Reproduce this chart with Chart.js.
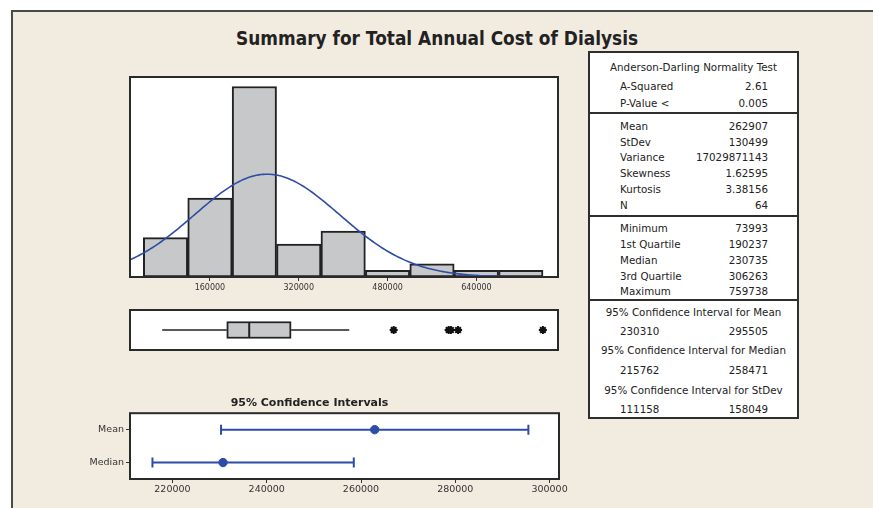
<!DOCTYPE html>
<html>
<head>
<meta charset="utf-8">
<script src="https://cdn.jsdelivr.net/npm/chart.js@4/dist/chart.umd.min.js"></script>
<style>
  body { margin: 0; background: #fff; overflow: hidden; width: 873px; height: 508px; position: relative; font-family: "DejaVu Sans", sans-serif; }
  #frame { position: absolute; left: 11px; top: 10px; width: 880px; height: 520px; background: #f2ebe0; border-left: 2px solid #4a4a4a; border-top: 2px solid #4a4a4a; }
  #title { position: absolute; left: 0; top: 27px; width: 875px; text-align: center; font: bold 19px "DejaVu Sans", sans-serif; color: #222; line-height: 22px; }
  #title span { display: inline-block; transform-origin: center; }
  canvas { position: absolute; }
  #stats { position: absolute; left: 588px; top: 51px; width: 207px; height: 364px; background: #fff; border: 2px solid #2e2e2e; }
  .sep { position: absolute; left: 0; width: 207px; height: 2px; background: #2e2e2e; }
  .txt { position: absolute; font-size: 10.3px; color: #222; line-height: 12px; white-space: nowrap; }
</style>
</head>
<body>
<div id="frame"></div>
<div id="title"><span>Summary for Total Annual Cost of Dialysis</span></div>
<canvas id="hist" width="450" height="230" style="left:120px;top:70px"></canvas>
<canvas id="box" width="450" height="60" style="left:120px;top:300px"></canvas>
<canvas id="ci" width="510" height="110" style="left:60px;top:390px"></canvas>
<div id="stats"></div>
<script>
// ---- data ----
const binCenters = [80000, 160000, 240000, 320000, 400000, 480000, 560000, 640000, 720000];
const binCounts = [6, 12, 29, 5, 7, 1, 2, 1, 1];
const histTicks = [160000, 320000, 480000, 640000];

const sampleMean = 262907;
const sampleSd = 130499;
const sampleN = 64;
const binWidth = 80000;

const boxWhiskers = [73993, 411000];   // lowest / highest non-outlier
const boxQuartiles = [190237, 230735, 306263]; // Q1, median, Q3
const boxOutliers = [491000, 590000, 594000, 607000, 759738];

const ciLabels = ["Mean", "Median"];
const ciLow = [230310, 215762];
const ciHigh = [295505, 258471];
const ciEstimate = [262907, 230735];
const ciTicks = [220000, 240000, 260000, 280000, 300000];

const adLabels = ["A-Squared", "P-Value <"];
const adValues = ["2.61", "0.005"];
const descLabels = ["Mean", "StDev", "Variance", "Skewness", "Kurtosis", "N"];
const descValues = ["262907", "130499", "17029871143", "1.62595", "3.38156", "64"];
const quartLabels = ["Minimum", "1st Quartile", "Median", "3rd Quartile", "Maximum"];
const quartValues = ["73993", "190237", "230735", "306263", "759738"];
const ciTableTitles = ["95% Confidence Interval for Mean", "95% Confidence Interval for Median", "95% Confidence Interval for StDev"];
const ciTableLow = ["230310", "215762", "111158"];
const ciTableHigh = ["295505", "258471", "158049"];

// ---- common ----
Chart.defaults.font.family = "DejaVu Sans";
Chart.defaults.color = "#333";
Chart.defaults.animation = false;

const blue = "#2c4ca8";
const histMin = 16000, histMax = 787000;

// white plot area with dark frame
const plotBox = {
  id: "plotBox",
  beforeDraw(chart) {
    const a = chart.chartArea, ctx = chart.ctx;
    ctx.save();
    ctx.fillStyle = "#fff";
    ctx.fillRect(a.left, a.top, a.right - a.left, a.bottom - a.top);
    ctx.restore();
  },
  afterDraw(chart) {
    const a = chart.chartArea, ctx = chart.ctx;
    ctx.save();
    ctx.strokeStyle = "#2a2a2a";
    ctx.lineWidth = 2;
    ctx.strokeRect(a.left, a.top, a.right - a.left, a.bottom - a.top);
    ctx.restore();
  }
};

// fitted normal curve from the sample mean / stdev
const curve = [];
for (let x = histMin; x <= 750000; x += 4000) {
  const z = (x - sampleMean) / sampleSd;
  curve.push({ x: x, y: sampleN * binWidth * Math.exp(-0.5 * z * z) / (sampleSd * Math.sqrt(2 * Math.PI)) });
}

// ---- histogram ----
new Chart(document.getElementById("hist"), {
  type: "bar",
  data: {
    datasets: [
      {
        type: "line",
        data: curve,
        borderColor: blue,
        borderWidth: 1.6,
        pointRadius: 0,
        tension: 0
      },
      {
        data: binCenters.map((c, i) => ({ x: c, y: binCounts[i] })),
        backgroundColor: "#c7c8ca",
        borderColor: "#222",
        borderWidth: 2,
        borderSkipped: false,
        barPercentage: 1,
        categoryPercentage: 1
      }
    ]
  },
  options: {
    responsive: false,
    layout: { padding: { left: 10, right: 12, top: 7, bottom: 0 } },
    plugins: { legend: { display: false }, tooltip: { enabled: false } },
    scales: {
      x: {
        type: "linear",
        offset: false,
        min: histMin,
        max: histMax,
        afterBuildTicks: (s) => { s.ticks = histTicks.map(v => ({ value: v })); },
        afterFit: (s) => { s.height = 23; },
        ticks: { font: { size: 8 }, padding: 2, maxRotation: 0, callback: v => String(v) },
        grid: { drawOnChartArea: false, tickLength: 4, color: "#333", offset: false },
        border: { display: false }
      },
      y: { display: false, min: 0, max: 30.45 }
    }
  },
  plugins: [plotBox]
});

// ---- boxplot ----
// (first dataset is drawn on top)
new Chart(document.getElementById("box"), {
  type: "bar",
  data: {
    datasets: [
      {
        type: "scatter",
        data: [{ x: boxQuartiles[1], y: 0.5 }],
        pointStyle: "line", pointRotation: 90, pointRadius: 8,
        pointBorderColor: "#222", pointBorderWidth: 2
      },
      {
        type: "scatter",
        data: boxOutliers.map(v => ({ x: v, y: 0.5 })),
        pointStyle: "star", pointRadius: 4,
        pointBorderColor: "#111", pointBorderWidth: 2
      },
      {
        indexAxis: "y",
        data: [{ x: [boxQuartiles[0], boxQuartiles[2]], y: 0.5 }],
        backgroundColor: "#c7c8ca",
        borderColor: "#222",
        borderWidth: 2,
        borderSkipped: false,
        barThickness: 17
      },
      {
        type: "line",
        data: [{ x: boxWhiskers[0], y: 0.5 }, { x: boxQuartiles[0], y: 0.5 }],
        borderColor: "#222", borderWidth: 1.5, pointRadius: 0
      },
      {
        type: "line",
        data: [{ x: boxQuartiles[2], y: 0.5 }, { x: boxWhiskers[1], y: 0.5 }],
        borderColor: "#222", borderWidth: 1.5, pointRadius: 0
      }
    ]
  },
  options: {
    responsive: false,
    layout: { padding: { left: 10, right: 12, top: 7, bottom: 8 } },
    plugins: { legend: { display: false }, tooltip: { enabled: false } },
    scales: {
      x: { type: "linear", display: false, offset: false, min: histMin, max: histMax },
      y: { type: "linear", display: false, offset: false, min: 0, max: 1 }
    }
  },
  plugins: [plotBox]
});

// ---- confidence intervals ----
const ciSets = [{
  type: "scatter",
  data: ciLabels.map((lab, i) => ({ x: ciEstimate[i], y: lab })),
  backgroundColor: blue,
  borderColor: blue,
  pointRadius: 4.2
}];
ciLabels.forEach((lab, i) => ciSets.push({
  type: "line",
  data: [{ x: ciLow[i], y: lab }, { x: ciHigh[i], y: lab }],
  borderColor: blue,
  borderWidth: 2,
  pointStyle: "line",
  pointRotation: 90,
  pointRadius: 5,
  pointBorderWidth: 2,
  pointBorderColor: blue
}));

new Chart(document.getElementById("ci"), {
  type: "line",
  data: { labels: ciLabels, datasets: ciSets },
  options: {
    responsive: false,
    layout: { padding: { left: 0, right: 11, top: 0, bottom: 0 } },
    plugins: {
      legend: { display: false },
      tooltip: { enabled: false },
      title: {
        display: true,
        text: "95% Confidence Intervals",
        font: { size: 11, weight: "bold" },
        color: "#222",
        padding: { top: 7, bottom: 3 }
      }
    },
    scales: {
      x: {
        type: "linear",
        min: 211000,
        max: 302000,
        afterBuildTicks: (s) => { s.ticks = ciTicks.map(v => ({ value: v })); },
        afterFit: (s) => { s.height = 21; },
        ticks: { font: { size: 9.5 }, padding: 1, maxRotation: 0, callback: v => String(v) },
        grid: { drawOnChartArea: false, tickLength: 4, color: "#333" },
        border: { display: false }
      },
      y: {
        type: "category",
        labels: ciLabels,
        offset: true,
        afterFit: (s) => { s.width = 70; },
        ticks: { font: { size: 9.5 }, padding: 2 },
        grid: { drawOnChartArea: false, tickLength: 4, color: "#333", offset: false },
        border: { display: false }
      }
    }
  },
  plugins: [plotBox]
});

// ---- statistics panel ----
const stats = document.getElementById("stats");
const boxLeft = 590, boxTop = 53;
function addText(txt, y, kind) {
  const d = document.createElement("div");
  d.className = "txt";
  d.textContent = txt;
  d.style.top = (y - 7 - boxTop) + "px";
  if (kind === "left") d.style.left = (620 - boxLeft) + "px";
  else if (kind === "right") d.style.right = (797 - 768) + "px";
  else { d.style.left = "0"; d.style.width = "207px"; d.style.textAlign = "center"; }
  stats.appendChild(d);
}
function addSep(y) {
  const d = document.createElement("div");
  d.className = "sep";
  d.style.top = (y - 1 - boxTop) + "px";
  stats.appendChild(d);
}

addText("Anderson-Darling Normality Test", 68, "center");
[87, 104].forEach((y, i) => { addText(adLabels[i], y, "left"); addText(adValues[i], y, "right"); });
addSep(113);
[127, 143, 158, 174, 190, 206].forEach((y, i) => { addText(descLabels[i], y, "left"); addText(descValues[i], y, "right"); });
addSep(216);
[229, 245, 261, 277, 292].forEach((y, i) => { addText(quartLabels[i], y, "left"); addText(quartValues[i], y, "right"); });
addSep(300);
[[313, 332], [351, 371], [391, 410]].forEach((ys, i) => {
  addText(ciTableTitles[i], ys[0], "center");
  addText(ciTableLow[i], ys[1], "left");
  addText(ciTableHigh[i], ys[1], "right");
});

// fit the main title to the reference width
const tspan = document.querySelector("#title span");
tspan.style.transform = "scaleX(" + (402 / tspan.getBoundingClientRect().width) + ")";
</script>
</body>
</html>
